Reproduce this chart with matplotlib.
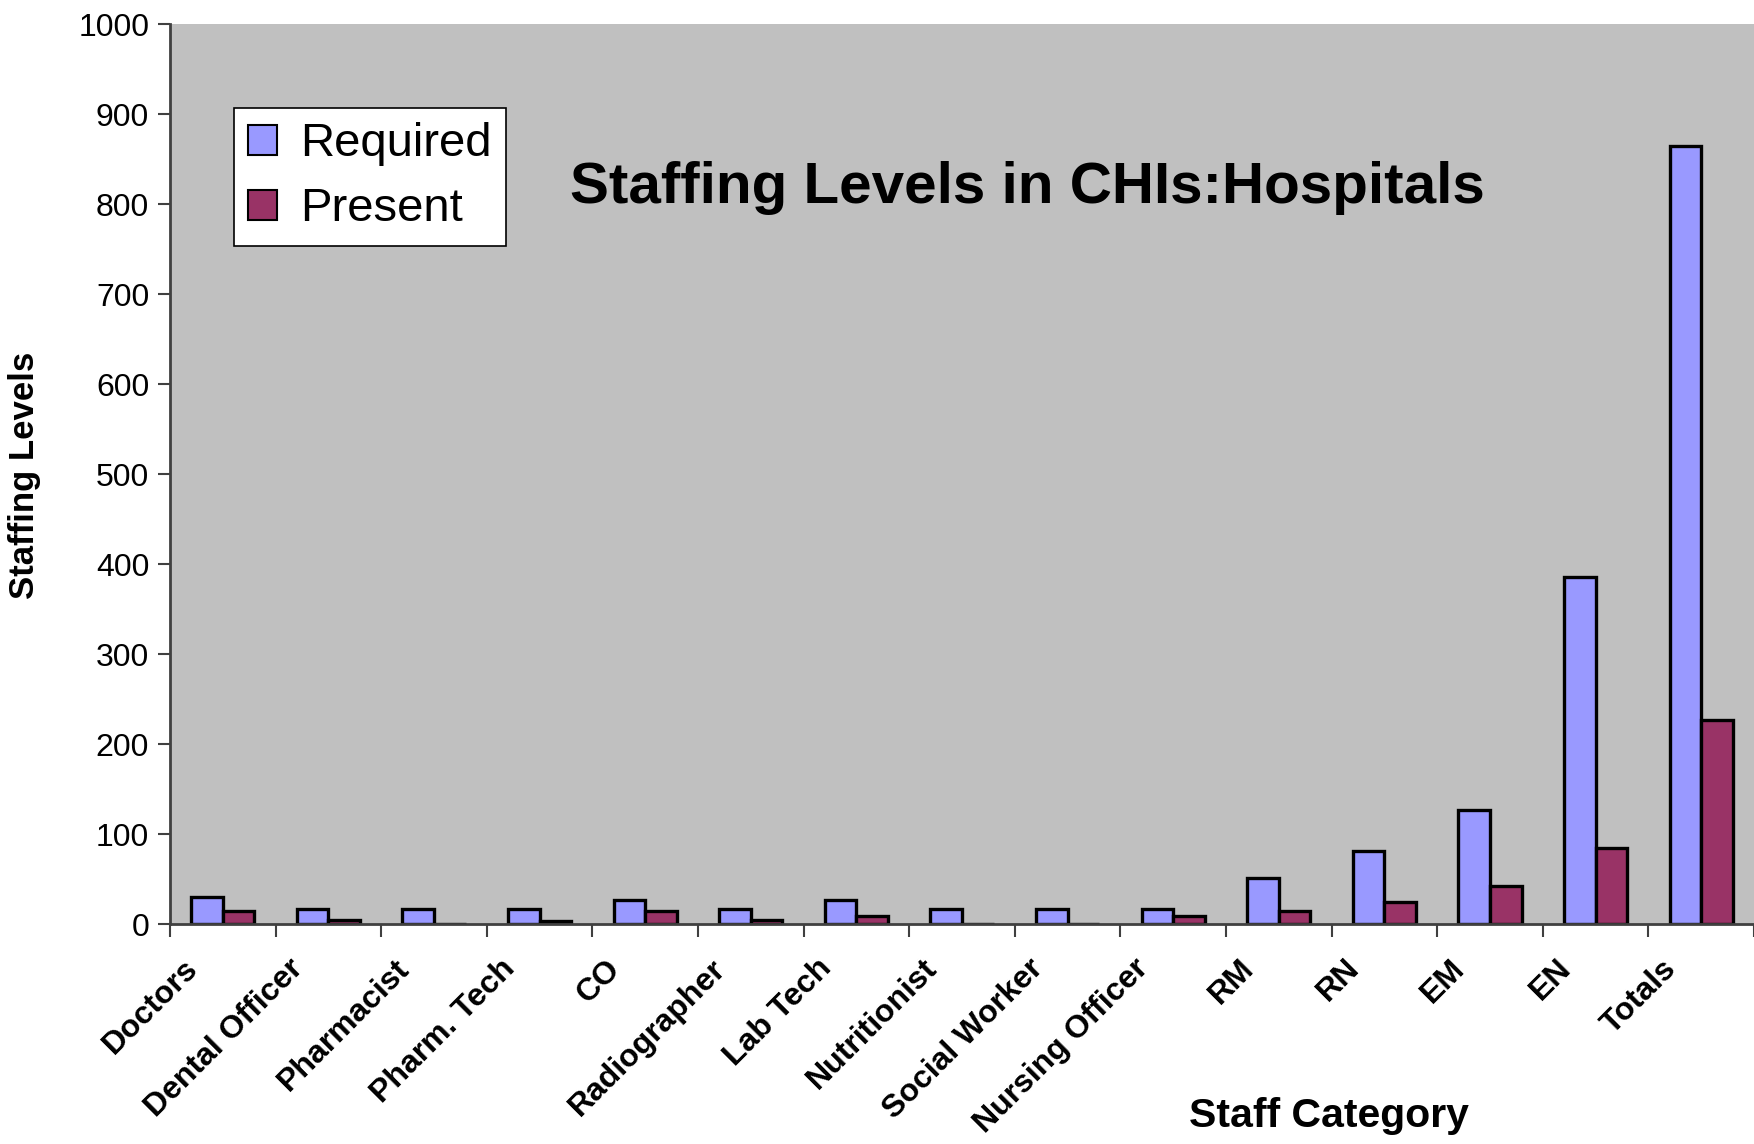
import matplotlib
matplotlib.use("Agg")
import matplotlib.pyplot as plt
import numpy as np
from matplotlib.transforms import ScaledTranslation

categories = ["Doctors", "Dental Officer", "Pharmacist", "Pharm. Tech", "CO",
              "Radiographer", "Lab Tech", "Nutritionist", "Social Worker",
              "Nursing Officer", "RM", "RN", "EM", "EN", "Totals"]
required = [30, 17, 17, 17, 27, 17, 27, 17, 17, 17, 51, 81, 127, 386, 864]
present = [15, 5, 0, 3, 15, 5, 9, 0, 0, 9, 15, 24, 42, 85, 227]
yticks = [0, 100, 200, 300, 400, 500, 600, 700, 800, 900, 1000]

plt.rcParams['font.family'] = ['Liberation Sans', 'DejaVu Sans']

fig = plt.figure(figsize=(17.54, 11.44), dpi=100)
ax = fig.add_axes([170/1754, 1-924/1144, 1-170/1754, (924-24)/1144])
ax.set_facecolor('#C0C0C0')

x = np.arange(len(categories))
w = 0.30
ax.bar(x - w/2, required, w, color='#9999FF', edgecolor='black', linewidth=2.4, label='Required')
ax.bar(x + w/2, present, w, color='#993366', edgecolor='black', linewidth=2.4, label='Present')

ax.set_xlim(-0.5, len(categories) - 0.5)
ax.set_ylim(0, 1000)
ax.set_yticks(yticks)
ax.tick_params(axis='y', labelsize=23, length=9, width=1.5, color='#404040', direction='out', pad=6)

ax.set_xticks(x)
ax.set_xticklabels(categories, rotation=45, ha='right', va='top', rotation_mode='anchor',
                   fontsize=23, fontweight='bold')
ax.tick_params(axis='x', which='major', length=0, pad=14)
ax.set_xticks(np.arange(-0.5, len(categories), 1), minor=True)
ax.tick_params(axis='x', which='minor', length=9, width=1.5, color='#404040', direction='out')
offset = ScaledTranslation(-40/100, -10/100, fig.dpi_scale_trans)
for lbl in ax.get_xticklabels():
    lbl.set_transform(lbl.get_transform() + offset)

for s in ['top', 'right']:
    ax.spines[s].set_visible(False)
for s in ['left', 'bottom']:
    ax.spines[s].set_color('#404040')
    ax.spines[s].set_linewidth(2)

leg = ax.legend(loc='upper left', bbox_to_anchor=((234-170)/1584, (924-108)/900),
                fontsize=34, frameon=True, fancybox=False, edgecolor='black',
                facecolor='white', framealpha=1,
                handlelength=0.6, handleheight=0.6, handletextpad=0.5, borderpad=0.3,
                labelspacing=0.45, borderaxespad=0)
leg.get_frame().set_linewidth(1.2)
for h in leg.legend_handles:
    h.set_linewidth(1.5)

fig.text(1027/1754, 1-188/1144, "Staffing Levels in CHIs:Hospitals", ha='center', va='center',
         fontsize=42, fontweight='bold')
fig.text(1329/1754, 1-1116/1144, "Staff Category", ha='center', va='center',
         fontsize=29.5, fontweight='bold')
fig.text(25/1754, 1-475/1144, "Staffing Levels", ha='center', va='center', rotation=90,
         fontsize=25, fontweight='bold')

fig.savefig("out.png", dpi=100)
